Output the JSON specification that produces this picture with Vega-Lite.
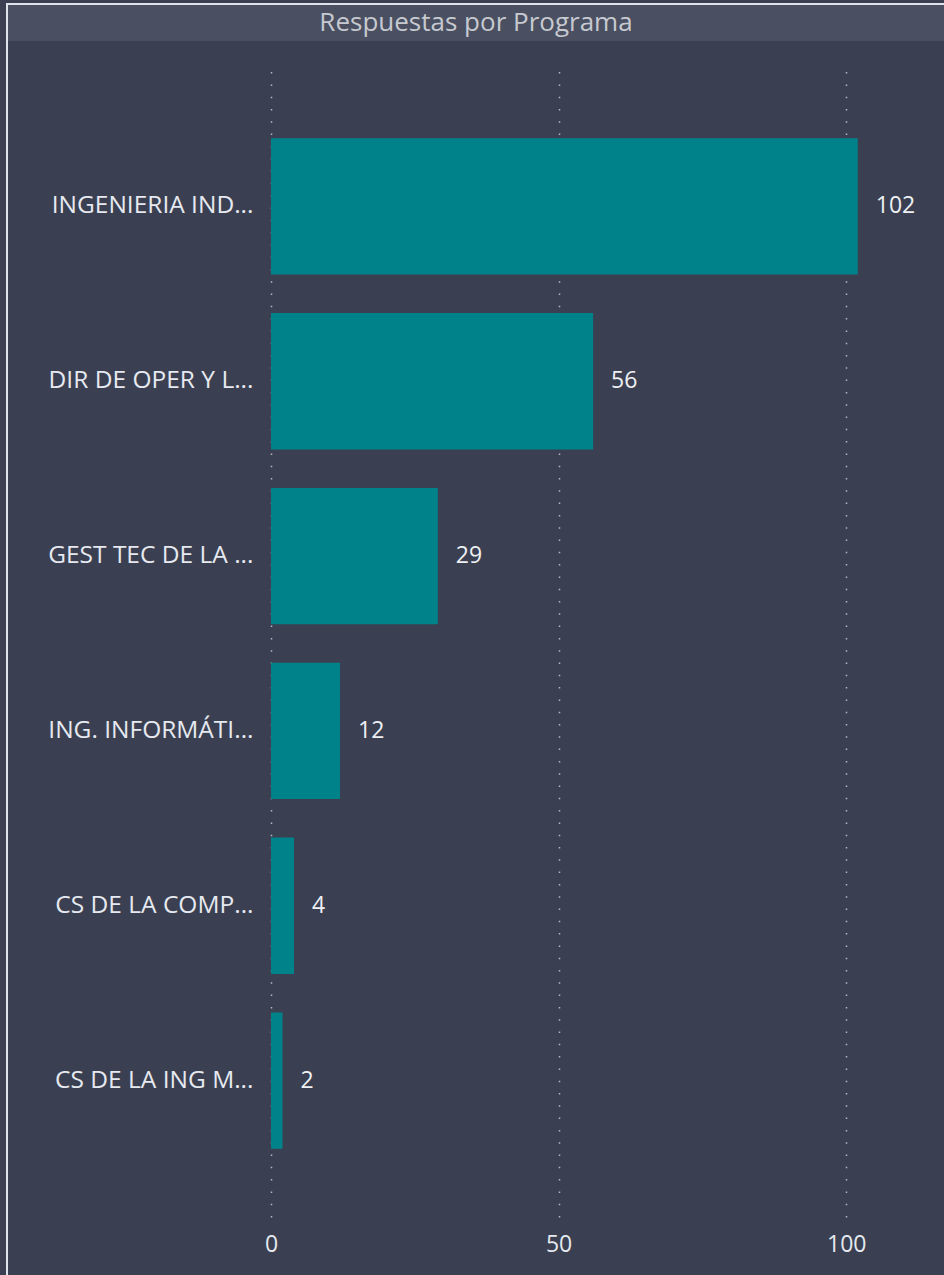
{
  "$schema": "https://vega.github.io/schema/vega-lite/v6.json",
  "background": "#3a4051",
  "padding": {"left": 6, "top": 3, "right": 0, "bottom": 0},
  "config": {
    "view": {"stroke": null},
    "font": "Open Sans"
  },
  "datasets": {
    "programas": [
      {"programa": "INGENIERIA IND...", "respuestas": 102},
      {"programa": "DIR DE OPER Y L...", "respuestas": 56},
      {"programa": "GEST TEC DE LA ...", "respuestas": 29},
      {"programa": "ING. INFORMÁTI...", "respuestas": 12},
      {"programa": "CS DE LA COMP...", "respuestas": 4},
      {"programa": "CS DE LA ING M...", "respuestas": 2}
    ],
    "titulo": [{"texto": "Respuestas por Programa"}],
    "vacio": []
  },
  "spacing": 0,
  "vconcat": [
    {
      "width": 940,
      "height": 2,
      "view": {"fill": "#dde2eb", "stroke": null},
      "data": {"name": "vacio"},
      "mark": {"type": "text", "opacity": 0},
      "encoding": {"text": {"field": "texto", "type": "nominal"}}
    },
    {
      "spacing": 0,
      "hconcat": [
        {
          "width": 2,
          "height": 1272,
          "view": {"fill": "#dde2eb", "stroke": null},
          "data": {"name": "vacio"},
          "mark": {"type": "text", "opacity": 0},
          "encoding": {"text": {"field": "texto", "type": "nominal"}}
        },
        {
          "spacing": 29,
          "vconcat": [
            {
              "width": 936,
              "height": 36,
              "view": {"fill": "#4a5061", "stroke": null},
              "data": {"name": "titulo"},
              "mark": {"type": "text", "fontSize": 26, "color": "#c6c9d0", "font": "Open Sans", "baseline": "middle", "align": "center"},
              "encoding": {"text": {"field": "texto", "type": "nominal"}}
            },
            {
              "width": 913,
              "height": 1147,
              "data": {"name": "programas"},
              "encoding": {
                "y": {
                  "field": "programa",
                  "type": "nominal",
                  "sort": null,
                  "scale": {"paddingInner": 0.22, "paddingOuter": 0.39},
                  "axis": {
                    "title": null,
                    "domain": false,
                    "ticks": false,
                    "grid": false,
                    "offset": -263,
                    "labelPadding": 18,
                    "labelFontSize": 24.5,
                    "labelColor": "#e6e9f0",
                    "labelLimit": 400
                  }
                },
                "x": {
                  "field": "respuestas",
                  "type": "quantitative",
                  "scale": {"domain": [0, 113], "nice": false, "range": [263, 913]},
                  "axis": {
                    "title": null,
                    "values": [0, 50, 100],
                    "domain": false,
                    "ticks": false,
                    "grid": true,
                    "gridColor": "#b4b8c2",
                    "gridWidth": 1.5,
                    "gridDash": [1.5, 10.8],
                    "labelFlush": false,
                    "labelPadding": 16,
                    "labelFontSize": 23,
                    "labelColor": "#e6e9f0"
                  }
                }
              },
              "layer": [
                {"mark": {"type": "bar", "color": "#00828a"}},
                {
                  "mark": {"type": "text", "align": "left", "baseline": "middle", "dx": 18, "fontSize": 23, "color": "#eef0f4"},
                  "encoding": {"text": {"field": "respuestas", "type": "quantitative"}}
                }
              ]
            }
          ]
        }
      ]
    }
  ]
}
